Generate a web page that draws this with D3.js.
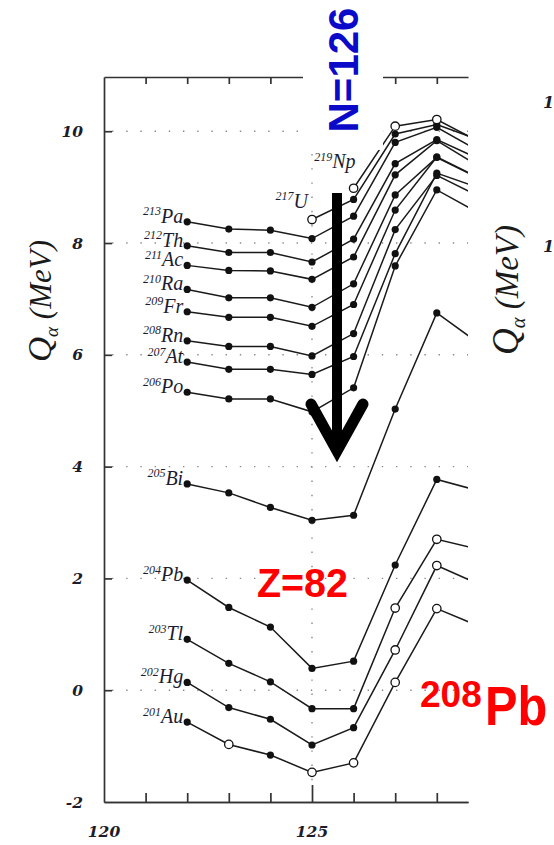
<!DOCTYPE html>
<html>
<head>
<meta charset="utf-8">
<script src="https://cdn.jsdelivr.net/npm/d3@7"></script>
<style>
  body { margin: 0; background: #fff; }
  svg { display: block; }
</style>
</head>
<body>
<svg id="chart" width="554" height="845"></svg>
<script>
// Alpha-decay energies Q_alpha (MeV) of isotone chains around the N=126 shell closure.
// Each array is indexed by neutron number, starting at the chain's first N.
const neutronAxis = [120, 121, 122, 123, 124, 125, 126, 127, 128];
const xTickLabels = [120, 125];
const yTickLabels = [-2, 0, 2, 4, 6, 8, 10];

const qAu = [-0.57, -0.97, -1.16, -1.47, -1.30, 0.14, 1.46, 1.15];
const qHg = [0.14, -0.31, -0.52, -0.98, -0.67, 0.72, 2.23, 1.90];
const qTl = [0.91, 0.48, 0.15, -0.33, -0.33, 1.47, 2.70, 2.52];
const qPb = [1.97, 1.48, 1.13, 0.39, 0.52, 2.24, 3.77, 3.57];
const qBi = [3.69, 3.53, 3.27, 3.04, 3.13, 5.03, 6.75, 6.21];
const qPo = [5.33, 5.21, 5.21, 4.98, 5.41, 7.59, 8.95, 8.54];
const qAt = [5.87, 5.74, 5.74, 5.65, 5.97, 7.81, 9.25, 8.99];
const qRn = [6.25, 6.15, 6.15, 5.98, 6.38, 8.24, 9.21, 8.84];
const qFr = [6.77, 6.67, 6.67, 6.51, 6.90, 8.59, 9.54, 9.17];
const qRa = [7.17, 7.02, 7.02, 6.85, 7.27, 8.86, 9.53, 9.16];
const qAc = [7.60, 7.51, 7.50, 7.35, 7.75, 9.22, 9.83, 9.38];
const qTh = [7.95, 7.83, 7.83, 7.66, 8.07, 9.42, 9.85, 9.51];
const qPa = [8.38, 8.25, 8.23, 8.08, 8.48, 9.80, 10.07, 9.65];
const qU  = [8.42, 8.78, 9.95, 10.12, 9.85];
const qNp = [8.98, 10.09, 10.21, 9.82];

// 1 = open marker (estimated value), 0 = filled marker (measured value)
const openAu = [0, 1, 0, 1, 1, 1, 1, 1];
const openHg = [0, 0, 0, 0, 0, 1, 1, 1];
const openTl = [0, 0, 0, 0, 0, 1, 1, 1];
const openU  = [1, 0, 0, 0, 0];
const openNp = [1, 1, 1, 1];

const symbols   = ["Au", "Hg", "Tl", "Pb", "Bi", "Po", "At", "Rn", "Fr", "Ra", "Ac", "Th", "Pa", "U", "Np"];
const massNums  = [201, 202, 203, 204, 205, 206, 207, 208, 209, 210, 211, 212, 213, 217, 219];
const firstN    = [122, 122, 122, 122, 122, 122, 122, 122, 122, 122, 122, 122, 122, 125, 126];
const qChains   = [qAu, qHg, qTl, qPb, qBi, qPo, qAt, qRn, qFr, qRa, qAc, qTh, qPa, qU, qNp];
const openFlags = [openAu, openHg, openTl, null, null, null, null, null, null, null, null, null, null, openU, openNp];

const chains = symbols.map((sym, i) => ({
  sym, mass: massNums[i],
  points: qChains[i].map((q, k) => ({
    n: firstN[i] + k, q,
    open: openFlags[i] ? openFlags[i][k] === 1 : false
  }))
}));

// ---- layout ----
const svg = d3.select("#chart");
const plot = { left: 104, right: 468, top: 77, bottom: 802 };
const x = d3.scaleLinear().domain([120, 128.75]).range([plot.left, plot.right]);
const y = d3.scaleLinear().domain([-2, 10.97]).range([plot.bottom, plot.top]);

const serif = "'Liberation Serif', 'Times New Roman', serif";
const tickFont = "'DejaVu Serif', serif";
const sans = "'Liberation Sans', Arial, sans-serif";

svg.append("defs").append("clipPath").attr("id", "plotClip")
  .append("rect")
  .attr("x", plot.left).attr("y", plot.top)
  .attr("width", plot.right - plot.left).attr("height", plot.bottom - plot.top);

// dotted reference grid
const grid = svg.append("g").attr("stroke", "#8a8a8a").attr("stroke-width", 1.4)
  .attr("stroke-dasharray", "1.4 12.8");
[0, 2, 4, 6, 8, 10].forEach(v => {
  grid.append("line")
    .attr("x1", plot.left + 8).attr("x2", plot.right)
    .attr("y1", y(v)).attr("y2", y(v));
});
grid.append("line")
  .attr("x1", x(125)).attr("x2", x(125))
  .attr("y1", plot.top + 6).attr("y2", plot.bottom - 18);

// axes (ticks point into the plot)
const axisColor = "#333";
function styleAxis(g) {
  g.selectAll("path, line").attr("stroke", axisColor).attr("stroke-width", 1.7);
  g.selectAll("text").remove();
}
const minorN = neutronAxis.filter(n => n !== 120 && n !== 125);

svg.append("g").attr("transform", `translate(0,${plot.bottom})`)
  .call(d3.axisBottom(x).tickValues(minorN).tickSizeInner(-9).tickSizeOuter(0).tickFormat(""))
  .call(styleAxis);
svg.append("g").attr("transform", `translate(0,${plot.bottom})`)
  .call(d3.axisBottom(x).tickValues([125]).tickSizeInner(-17).tickSizeOuter(0).tickFormat(""))
  .call(styleAxis);
svg.append("g").attr("transform", `translate(0,${plot.top})`)
  .call(d3.axisTop(x).tickValues(minorN).tickSizeInner(-7).tickSizeOuter(0).tickFormat(""))
  .call(styleAxis);
svg.append("g").attr("transform", `translate(${plot.left},0)`)
  .call(d3.axisLeft(y).tickValues(yTickLabels.filter(v => v > -2)).tickSizeInner(-8).tickSizeOuter(0).tickFormat(""))
  .call(styleAxis);

// tick labels
svg.append("g").selectAll("text").data(yTickLabels).join("text")
  .attr("x", 83).attr("y", d => y(d) + 5.5)
  .attr("text-anchor", "end")
  .attr("font-family", tickFont).attr("font-style", "italic").attr("font-weight", "bold")
  .attr("font-size", 15.5).attr("fill", "#1c1c2a")
  .text(d => d);
svg.append("g").selectAll("text").data(xTickLabels).join("text")
  .attr("x", d => x(d)).attr("y", 837)
  .attr("text-anchor", "middle")
  .attr("font-family", tickFont).attr("font-style", "italic").attr("font-weight", "bold")
  .attr("font-size", 15.5).attr("fill", "#1c1c2a")
  .text(d => d);

// y-axis title
function qTitle(parent, cx, cy, size) {
  const t = parent.append("text")
    .attr("transform", `translate(${cx},${cy}) rotate(-90)`)
    .attr("text-anchor", "middle")
    .attr("font-family", serif).attr("font-style", "italic")
    .attr("fill", "#1a1a1a");
  t.append("tspan").attr("font-size", size * 1.12).text("Q");
  t.append("tspan").attr("font-size", size * 0.62).attr("dy", size * 0.22).text("α");
  t.append("tspan").attr("font-size", size).attr("dy", -size * 0.22).text(" (MeV)");
}
qTitle(svg, 51, 301, 31);

// isotone chains
const lineGen = d3.line().x(d => x(d.n)).y(d => y(d.q));
const marks = svg.append("g").attr("clip-path", "url(#plotClip)");
marks.selectAll("path").data(chains).join("path")
  .attr("d", d => lineGen(d.points))
  .attr("fill", "none").attr("stroke", "#1a1a1a").attr("stroke-width", 1.5);

const allPoints = chains.flatMap(c => c.points);
marks.selectAll("circle").data(allPoints).join("circle")
  .attr("cx", d => x(d.n)).attr("cy", d => y(d.q))
  .attr("r", d => d.open ? 4.2 : 3.6)
  .attr("fill", d => d.open ? "#fff" : "#111")
  .attr("stroke", "#111").attr("stroke-width", d => d.open ? 1.3 : 0);

// nuclide labels at the start of each chain
const labelOffset = { U: [-4, -12], Np: [2, -20] };
const labels = svg.append("g")
  .attr("font-family", serif).attr("font-style", "italic").attr("fill", "#1c1c30");
chains.forEach(c => {
  const p0 = c.points[0];
  const off = labelOffset[c.sym] || [-4, 1];
  const t = labels.append("text")
    .attr("x", x(p0.n) + off[0]).attr("y", y(p0.q) + off[1])
    .attr("text-anchor", "end");
  t.append("tspan").attr("font-size", 12).attr("dy", -7.5).text(c.mass);
  t.append("tspan").attr("font-size", 20).attr("dy", 7.5).text(c.sym);
});

// next panel's axis title and tick labels, cut by the page edge
qTitle(svg, 518, 290, 33);
svg.append("g").selectAll("text").data([108, 252]).join("text")
  .attr("x", 543).attr("y", d => d)
  .attr("font-family", tickFont).attr("font-style", "italic").attr("font-weight", "bold")
  .attr("font-size", 16).attr("fill", "#1c1c2a")
  .text("1");

// ---- annotations ----
svg.append("rect").attr("x", 303).attr("y", 0).attr("width", 80).attr("height", 150).attr("fill", "#fff");

svg.append("text")
  .attr("transform", "translate(358,70) rotate(-90)")
  .attr("text-anchor", "middle")
  .attr("font-family", sans).attr("font-weight", "bold").attr("font-size", 42)
  .attr("fill", "#0a0ac8")
  .text("N=126");

// shell-closure arrow
const arrow = svg.append("g").attr("fill", "none").attr("stroke", "#000");
arrow.append("line")
  .attr("x1", 337).attr("x2", 337).attr("y1", 193).attr("y2", 448)
  .attr("stroke-width", 10);
arrow.append("path")
  .attr("d", "M311,404 L337,451 L363,404")
  .attr("stroke-width", 11)
  .attr("stroke-linecap", "round").attr("stroke-linejoin", "miter").attr("stroke-miterlimit", 10);

svg.append("text")
  .attr("x", 257).attr("y", 597)
  .attr("font-family", sans).attr("font-weight", "bold").attr("font-size", 40)
  .attr("textLength", 91).attr("lengthAdjust", "spacingAndGlyphs")
  .attr("fill", "#ff0000")
  .text("Z=82");

svg.append("text")
  .attr("x", 420).attr("y", 707)
  .attr("font-family", sans).attr("font-weight", "bold").attr("font-size", 37)
  .attr("fill", "#ff0000")
  .text("208");
svg.append("text")
  .attr("transform", "translate(485,725) scale(0.87,1)")
  .attr("font-family", sans).attr("font-weight", "bold").attr("font-size", 56)
  .attr("fill", "#ff0000")
  .text("Pb");
</script>
</body>
</html>
